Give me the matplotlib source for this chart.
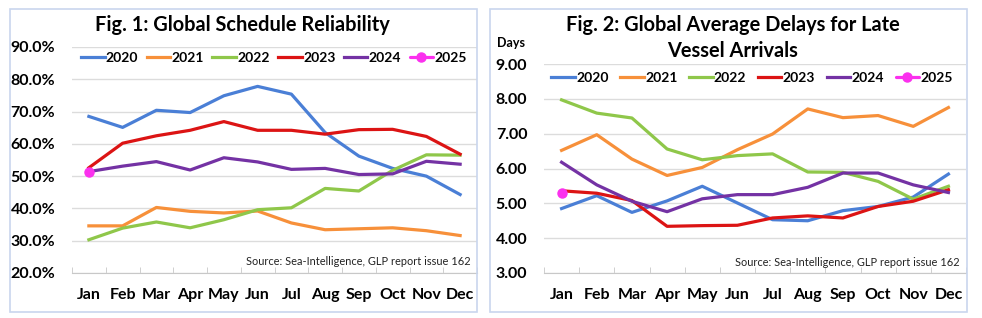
import matplotlib.pyplot as plt
from matplotlib.patches import Rectangle

plt.rcParams['font.family'] = ['Lato', 'DejaVu Sans']
plt.rcParams['font.weight'] = 'bold'

months = ['Jan', 'Feb', 'Mar', 'Apr', 'May', 'Jun', 'Jul', 'Aug', 'Sep', 'Oct', 'Nov', 'Dec']
years = ['2020', '2021', '2022', '2023', '2024', '2025']
colors = ['#4a7fd6', '#f7903a', '#8fc74a', '#dc1414', '#7432a4', '#fb30ee']

# Fig. 1: schedule reliability (%)
rel_2020 = [68.5, 65.1, 70.4, 69.7, 74.9, 77.8, 75.4, 63.5, 56.2, 52.4, 50.0, 44.3]
rel_2021 = [34.6, 34.6, 40.3, 39.1, 38.6, 39.2, 35.5, 33.4, 33.7, 34.0, 33.1, 31.6]
rel_2022 = [30.3, 33.9, 35.8, 34.0, 36.5, 39.6, 40.2, 46.2, 45.4, 51.8, 56.6, 56.5]
rel_2023 = [52.6, 60.2, 62.5, 64.2, 66.9, 64.2, 64.2, 63.0, 64.4, 64.5, 62.3, 56.8]
rel_2024 = [51.4, 53.1, 54.5, 51.9, 55.7, 54.4, 52.1, 52.4, 50.5, 50.7, 54.6, 53.7]
rel_2025 = [51.4]

# Fig. 2: average delay of late vessels (days)
del_2020 = [4.85, 5.22, 4.74, 5.07, 5.49, 5.01, 4.53, 4.50, 4.79, 4.91, 5.18, 5.84]
del_2021 = [6.52, 6.97, 6.27, 5.80, 6.03, 6.54, 6.99, 7.71, 7.46, 7.52, 7.21, 7.75]
del_2022 = [7.97, 7.59, 7.45, 6.56, 6.25, 6.37, 6.42, 5.90, 5.89, 5.63, 5.12, 5.49]
del_2023 = [5.36, 5.29, 5.08, 4.34, 4.36, 4.37, 4.58, 4.64, 4.58, 4.91, 5.06, 5.39]
del_2024 = [6.18, 5.53, 5.06, 4.76, 5.13, 5.25, 5.25, 5.46, 5.87, 5.87, 5.53, 5.31]
del_2025 = [5.31]

fig = plt.figure(figsize=(9.82, 3.18), dpi=100)
W, H = 982, 318

def fx(px):
    return px / W

def fy(py):
    return 1 - py / H

# panel borders
for x0, x1 in [(10, 477), (490, 967)]:
    fig.patches.append(Rectangle((fx(x0), fy(312)), fx(x1 - x0), (312 - 9) / H,
                                 transform=fig.transFigure, fill=False,
                                 edgecolor='#c9d6ee', lw=1.2))

def setup(ax, series, ylim, ystep, fmt, leg_box):
    x = list(range(12))
    for i, s in enumerate(series):
        xs = x[:len(s)]
        if len(s) == 1:
            ax.plot(xs, s, color=colors[i], lw=2.3, marker='o', ms=6.5,
                    label=years[i], solid_capstyle='round', zorder=5)
        else:
            ax.plot(xs, s, color=colors[i], lw=2.3, label=years[i],
                    solid_joinstyle='round', zorder=3)
    ax.set_xlim(-0.5, 11.5)
    ax.set_ylim(*ylim)
    ticks = [ylim[0] + k * ystep for k in range(int(round((ylim[1] - ylim[0]) / ystep)) + 1)]
    ax.set_yticks(ticks)
    ax.set_yticklabels([fmt(t) for t in ticks], fontsize=11.5, fontweight='bold')
    ax.set_xticks(x)
    ax.set_xticklabels(months, fontsize=11.5, fontweight='bold')
    ax.set_xticks([k + 0.5 for k in range(-1, 12)], minor=True)
    ax.tick_params(axis='x', which='major', length=0, pad=11)
    ax.tick_params(axis='x', which='minor', length=4, direction='in', color='#c8c8c8')
    ax.tick_params(axis='y', length=0, pad=12)
    ax.grid(axis='y', color='#dcdcdc', lw=1)
    ax.set_axisbelow(True)
    for sp in ['top', 'left', 'right']:
        ax.spines[sp].set_visible(False)
    ax.spines['bottom'].set_color('#c8c8c8')
    ax.text(0.985, 0.025, 'Source: Sea-Intelligence, GLP report issue 162',
            transform=ax.transAxes, ha='right', va='bottom', fontsize=7.9,
            fontweight='normal', color='#222222')
    leg = ax.legend(loc='center', bbox_to_anchor=leg_box, mode='expand', ncol=6,
                    frameon=False, fontsize=10, handlelength=1.7, handletextpad=0.1,
                    columnspacing=0.5, borderaxespad=0, borderpad=0)
    for t in leg.get_texts():
        t.set_fontweight('bold')

ax1 = fig.add_axes([fx(72), fy(273), fx(477 - 72), (273 - 47) / H])
setup(ax1, [rel_2020, rel_2021, rel_2022, rel_2023, rel_2024, rel_2025],
      (20, 90), 10, lambda v: f'{v:.1f}%', (0.022, 0.91, 0.953, 0.08))

ax2 = fig.add_axes([fx(544), fy(273), fx(966 - 544), (273 - 64) / H])
setup(ax2, [del_2020, del_2021, del_2022, del_2023, del_2024, del_2025],
      (3, 9), 1, lambda v: f'{v:.2f}', (0.017, 0.895, 0.952, 0.08))

fig.text(fx(242), fy(25), 'Fig. 1: Global Schedule Reliability', ha='center',
         va='center', fontsize=14.4, fontweight='bold')
fig.text(fx(733), fy(25), 'Fig. 2: Global Average Delays for Late', ha='center',
         va='center', fontsize=14.4, fontweight='bold')
fig.text(fx(733), fy(51), 'Vessel Arrivals', ha='center',
         va='center', fontsize=14.4, fontweight='bold')
fig.text(fx(497), fy(43), 'Days', ha='left', va='center', fontsize=9,
         fontweight='bold')

fig.savefig('out.png', dpi=100)
